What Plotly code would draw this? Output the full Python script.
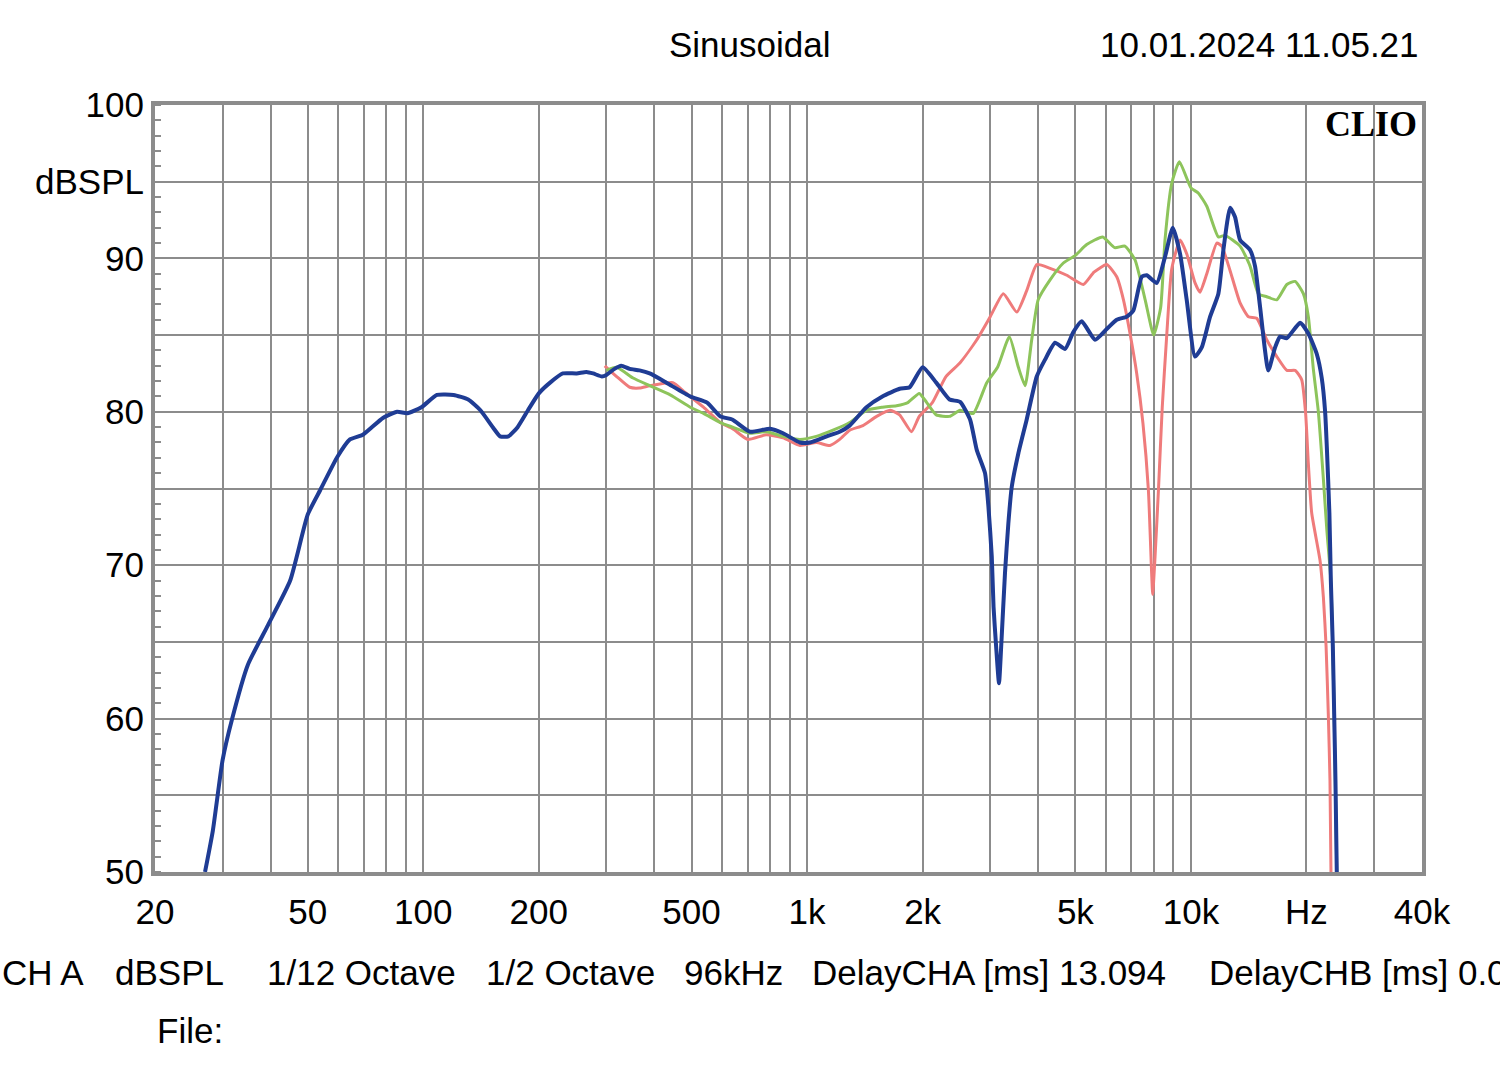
import plotly.graph_objects as go

# frequency response
blue_f = [27.0, 28.3, 30, 31.7, 34.9, 39.4, 45, 50, 53.9, 59.7,
          64.4, 69.6, 78.5, 85.5, 90.9, 98.9, 108.6, 119.9, 130.9, 140.9,
          152.7, 158.5, 166.7, 176.1, 187.4, 200, 214, 231, 251, 266,
          277, 292, 300, 315, 328, 345, 366, 389, 430, 496,
          549, 594, 638, 710, 801, 866, 958, 1017, 1125, 1216,
          1291, 1428, 1571, 1742, 1850, 2000, 2170, 2350, 2504, 2658,
          2768, 2908, 2968, 3028, 3060, 3108, 3162, 3210, 3278, 3344,
          3413, 3552, 3734, 3966, 4168, 4426, 4700, 4940, 5194, 5626,
          6034, 6408, 6804, 7080, 7444, 7670, 8150, 8560, 8970, 9370,
          9750, 10250, 10670, 11220, 11790, 12150, 12650, 13030, 13430, 14260,
          14690, 15140, 15910, 16570, 17070, 17780, 19250, 20230, 21260, 21920,
          22370, 22600, 22950, 23150, 23430, 23620, 23800, 23990]
blue_db = [50, 52.7, 57.3, 59.9, 63.5, 66.1, 69.0, 73.3, 74.9, 77.05,
           78.2, 78.5, 79.6, 80.0, 79.9, 80.3, 81.1, 81.1, 80.8, 80.1,
           78.9, 78.4, 78.4, 79.0, 80.1, 81.2, 81.9, 82.5, 82.5, 82.6,
           82.5, 82.3, 82.4, 82.8, 83.0, 82.8, 82.7, 82.5, 81.9, 81.0,
           80.6, 79.7, 79.5, 78.7, 78.9, 78.6, 78.0, 78.0, 78.4, 78.7,
           79.1, 80.3, 81.0, 81.5, 81.6, 82.9, 81.9, 80.8, 80.65, 79.5,
           77.5, 76.0, 73.8, 70.55, 67.3, 64.7, 62.3, 65.1, 69.5, 72.7,
           75.1, 77.3, 79.5, 82.3, 83.4, 84.5, 84.1, 85.2, 85.9, 84.7,
           85.4, 86.0, 86.2, 86.6, 88.8, 88.9, 88.4, 90.1, 92.0, 90.3,
           87.3, 83.6, 84.2, 86.2, 87.7, 90.55, 93.3, 92.7, 91.2, 90.55,
           89.5, 86.85, 82.7, 84.2, 84.9, 84.8, 85.8, 85.1, 83.8, 82.2,
           80.0, 77.7, 73.4, 69.0, 64.7, 60.3, 56.0, 50]

red_f = [297, 319, 345, 366, 389, 447, 479, 537, 594, 640,
         700, 783, 866, 958, 1057, 1147, 1216, 1291, 1398, 1518,
         1646, 1742, 1870, 1960, 2120, 2300, 2504, 2768, 3000, 3246,
         3518, 3734, 3966, 4296, 4748, 5246, 5590, 6034, 6408, 6672,
         6940, 7224, 7500, 7748, 7900, 7950, 8064, 8230, 8420, 8650,
         8910, 9370, 9750, 10250, 10560, 11000, 11680, 12030, 12650, 13430,
         14120, 14840, 15760, 16740, 17780, 18680, 19430, 19900, 20230, 20640,
         21700, 22140, 22500, 22800, 23030, 23170]
red_db = [83.0, 82.3, 81.6, 81.55, 81.7, 81.9, 81.3, 80.3, 79.3, 78.9,
          78.2, 78.5, 78.3, 77.8, 78.0, 77.8, 78.2, 78.8, 79.1, 79.7,
          80.1, 79.8, 78.7, 79.7, 80.6, 82.3, 83.2, 84.7, 86.2, 87.7,
          86.5, 87.9, 89.6, 89.35, 88.9, 88.3, 89.1, 89.6, 88.8, 87.3,
          85.1, 82.5, 79.25, 74.9, 69.5, 68.1, 70.55, 74.9, 80.3, 85.0,
          89.3, 91.2, 90.3, 88.4, 87.8, 89.0, 91.0, 90.8, 89.2, 87.1,
          86.2, 86.1, 84.7, 83.6, 82.7, 82.7, 82.1, 79.9, 76.6, 73.4,
          70.3, 67.9, 64.7, 60.3, 56.0, 50]

green_f = [300, 319, 352, 389, 440, 496, 537, 594, 640, 710,
           783, 866, 958, 1057, 1168, 1291, 1428, 1571, 1710, 1830,
           1960, 2050, 2170, 2350, 2504, 2710, 2938, 3134, 3366, 3552,
           3698, 3848, 4000, 4296, 4652, 5000, 5352, 5890, 6330, 6728,
           7150, 7600, 8000, 8340, 8560, 8914, 9332, 10000, 10460, 11000,
           11790, 12270, 13430, 14260, 14990, 15760, 16740, 17780, 18680, 19630,
           20230, 20840, 21480, 22140, 22600, 23150, 23620, 23990]
green_db = [82.7, 82.9, 82.2, 81.7, 81.1, 80.3, 79.9, 79.3, 79.0, 78.6,
            78.7, 78.4, 78.2, 78.4, 78.8, 79.3, 80.1, 80.3, 80.4, 80.6,
            81.2, 80.6, 79.8, 79.7, 80.1, 79.9, 81.9, 82.9, 84.9, 82.9,
            81.7, 84.7, 87.3, 88.6, 89.7, 90.2, 90.9, 91.4, 90.7, 90.8,
            89.9, 87.3, 85.0, 86.8, 91.2, 94.9, 96.3, 94.6, 94.25, 93.4,
            91.4, 91.5, 90.8, 89.5, 87.7, 87.5, 87.3, 88.3, 88.5, 87.7,
            86.2, 82.8, 80.0, 75.6, 72.3, 69.0, 60.3, 50]

x_grid = [20, 30, 40, 50, 60, 70, 80, 90, 100, 200, 300, 400, 500, 600, 700, 800, 900,
          1000, 2000, 3000, 4000, 5000, 6000, 7000, 8000, 9000, 10000, 20000, 30000, 40000]
x_labels = {20: "20", 50: "50", 100: "100", 200: "200", 500: "500", 1000: "1k", 2000: "2k",
            5000: "5k", 10000: "10k", 20000: "Hz", 40000: "40k"}
y_grid = [50, 55, 60, 65, 70, 75, 80, 85, 90, 95, 100]
y_labels = {50: "50", 60: "60", 70: "70", 80: "80", 90: "90", 95: "dBSPL", 100: "100"}

FONT = "Liberation Sans, Arial, sans-serif"
GRID = "#8c8c8c"

fig = go.Figure()
fig.add_trace(go.Scatter(x=red_f, y=red_db, mode="lines", line=dict(color="#ef7b7b", width=3, shape="spline", smoothing=0.5)))
fig.add_trace(go.Scatter(x=green_f, y=green_db, mode="lines", line=dict(color="#8dc45b", width=3, shape="spline", smoothing=0.5)))
fig.add_trace(go.Scatter(x=blue_f, y=blue_db, mode="lines", line=dict(color="#1f3c94", width=4, shape="spline", smoothing=0.5)))

fig.update_layout(
    width=1500, height=1074, showlegend=False,
    paper_bgcolor="white", plot_bgcolor="white",
    margin=dict(l=155, r=78, t=105, b=202),
    font=dict(family=FONT, size=35, color="black"),
    xaxis=dict(type="log", range=[1.30103, 4.60206], tickmode="array", tickvals=x_grid,
               ticktext=[x_labels.get(v, "") for v in x_grid], ticks="", ticklabelstandoff=6,
               showgrid=True, gridcolor=GRID, gridwidth=2, zeroline=False,
               showline=True, linecolor=GRID, linewidth=4, mirror=True),
    yaxis=dict(range=[50, 100], tickmode="array", tickvals=y_grid,
               ticktext=[y_labels.get(v, "") for v in y_grid], ticks="", ticklabelstandoff=0,
               showgrid=True, gridcolor=GRID, gridwidth=2, zeroline=False,
               showline=True, linecolor=GRID, linewidth=4, mirror=True,
               minor=dict(dtick=1, tick0=50, ticks="inside", ticklen=6, tickcolor=GRID, tickwidth=2, showgrid=False)),
    yaxis2=dict(range=[50, 100], overlaying="y", side="right", anchor="x", showticklabels=False,
                showgrid=False, zeroline=False, ticks="", tickvals=y_grid,
                minor=dict(dtick=1, tick0=50, ticks="inside", ticklen=6, tickcolor=GRID, tickwidth=2, showgrid=False)),
)

# header, logo and footer texts
def px(x):
    return (x - 155) / 1267

def py(y):
    return (872 - y) / 767

notes = [
    ("Sinusoidal", 750, 45, "center", FONT, 35),
    ("10.01.2024 11.05.21", 1421, 45, "right", FONT, 35),
    ("<b>CLIO</b>", 1419, 124, "right", "Liberation Serif, Times New Roman, serif", 36),
    ("CH A", 0, 972, "left", FONT, 35),
    ("dBSPL", 113, 972, "left", FONT, 35),
    ("1/12 Octave", 265, 972, "left", FONT, 35),
    ("1/2 Octave", 484, 972, "left", FONT, 35),
    ("96kHz", 682, 972, "left", FONT, 35),
    ("DelayCHA [ms] 13.094", 810, 972, "left", FONT, 35),
    ("DelayCHB [ms] 0.000", 1207, 972, "left", FONT, 35),
    ("File:", 155, 1030, "left", FONT, 35),
]
for text, x, y, anchor, fam, size in notes:
    fig.add_annotation(text=text, x=px(x), y=py(y), xref="paper", yref="paper",
                       xanchor=anchor, yanchor="middle", showarrow=False,
                       font=dict(family=fam, size=size, color="black"))

fig.write_html("out.html", config={"displayModeBar": False},
               post_script="document.body.style.margin='0';")
